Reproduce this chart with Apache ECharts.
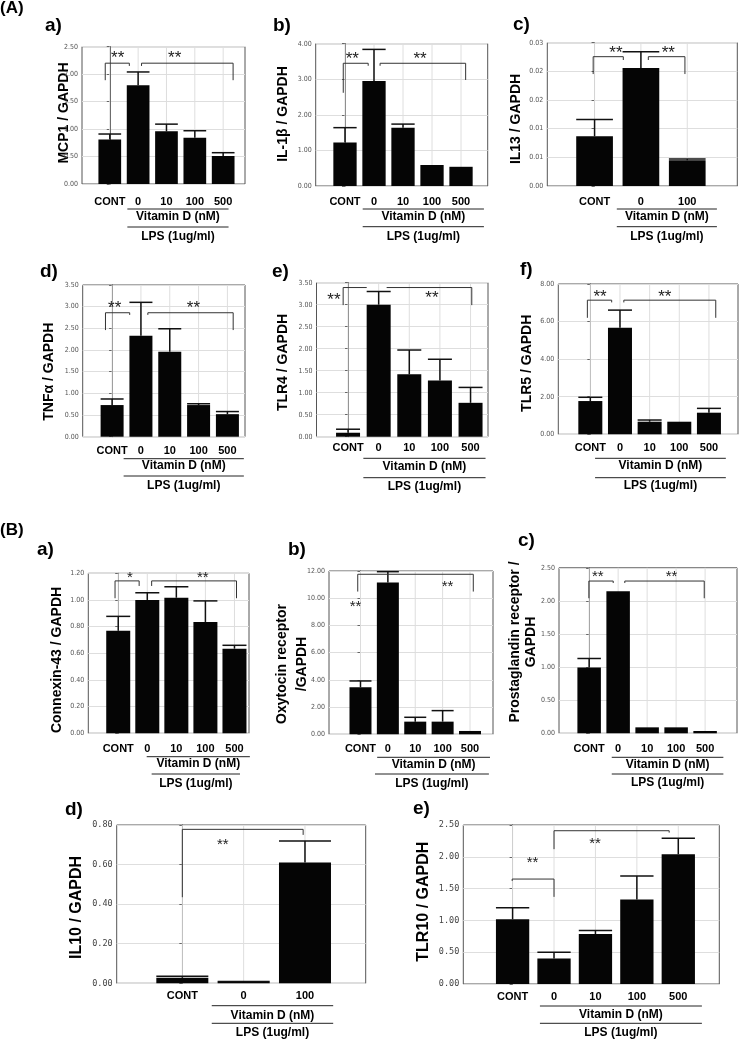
<!DOCTYPE html>
<html><head><meta charset="utf-8">
<script src="https://cdn.jsdelivr.net/npm/echarts@6/dist/echarts.min.js"></script>
<style>html,body{margin:0;padding:0;background:#fff}#c{width:739px;height:1039px}</style>
</head><body><div id="c"></div>
<script>
// ---------- categories ----------
const catsFive = ['CONT', '0', '10', '100', '500'];
const catsThree = ['CONT', '0', '100'];
const groupLabels = ['Vitamin D (nM)', 'LPS (1ug/ml)'];

// ---------- (A) values: mean and SD ----------
const mcp1Mean = [0.81, 1.80, 0.96, 0.84, 0.51];
const mcp1Sd   = [0.10, 0.24, 0.13, 0.13, 0.06];
const il1bMean = [1.22, 2.95, 1.64, 0.59, 0.54];
const il1bSd   = [0.42, 0.89, 0.10, 0, 0];
const il13Mean = [0.0087, 0.0206, 0.0045];
const il13Sd   = [0.0029, 0.0028, 0.0002];
const tnfaMean = [0.73, 2.33, 1.96, 0.73, 0.52];
const tnfaSd   = [0.14, 0.77, 0.53, 0.03, 0.06];
const tlr4Mean = [0.09, 3.00, 1.42, 1.28, 0.77];
const tlr4Sd   = [0.08, 0.30, 0.55, 0.48, 0.35];
const tlr5Mean = [1.77, 5.67, 0.67, 0.67, 1.15];
const tlr5Sd   = [0.20, 0.94, 0.09, 0, 0.23];
// ---------- (B) values ----------
const cx43Mean = [0.77, 1.00, 1.017, 0.835, 0.635];
const cx43Sd   = [0.107, 0.054, 0.082, 0.158, 0.025];
const oxtrMean = [3.46, 11.15, 0.93, 0.93, 0.245];
const oxtrSd   = [0.46, 0.80, 0.32, 0.81, 0];
const ptgrMean = [0.995, 2.146, 0.09, 0.09, 0.035];
const ptgrSd   = [0.135, 0, 0, 0, 0];
const il10Mean = [0.028, 0.008, 0.61];
const il10Sd   = [0.008, 0.001, 0.109];
const tlr10Mean = [1.02, 0.40, 0.786, 1.33, 2.04];
const tlr10Sd   = [0.18, 0.10, 0.054, 0.37, 0.25];

// ---------- tick labels ----------
const il13TickLabels = ['0.00', '0.01', '0.01', '0.02', '0.02', '0.03'];

// ---------- significance brackets [xFrom, xTo, yTop, yLeftEnd, yRightEnd] (category index / value units) ----------
const mcp1Brackets = [[-0.16, 0.69, 2.20, 1.89, 2.15], [1.12, 4.35, 2.20, 2.15, 1.89]];
const mcp1Stars = [[0.28, 2.35, '**'], [2.29, 2.35, '**']];
const il1bBrackets = [[-0.06, 0.80, 3.45, 2.62, 3.38], [1.21, 4.16, 3.45, 3.38, 2.98]];
const il1bStars = [[0.25, 3.68, '**'], [2.59, 3.68, '**']];
const il13Brackets = [[-0.03, 0.62, 0.02256, 0.01953, 0.02198], [1.16, 1.95, 0.02256, 0.02198, 0.01953]];
const il13Stars = [[0.46, 0.02372, '**'], [1.59, 0.02372, '**']];
const tnfaBrackets = [[-0.23, 0.61, 2.86, 2.46, 2.81], [1.24, 4.20, 2.86, 2.81, 2.46]];
const tnfaStars = [[0.09, 3.04, '**'], [2.82, 3.04, '**']];
const tlr4Brackets = [[-0.16, 0.61, 3.39, 2.99, 3.39], [1.26, 4.04, 3.39, 3.39, 2.99]];
const tlr4Stars = [[-0.46, 3.18, '**'], [2.74, 3.23, '**']];
const tlr5Brackets = [[-0.10, 0.72, 7.14, 6.20, 7.02], [1.13, 4.23, 7.14, 7.02, 6.20]];
const tlr5Stars = [[0.33, 7.5, '**'], [2.51, 7.5, '**']];
const cx43Brackets = [[-0.11, 0.72, 1.143, 1.013, 1.105], [1.15, 4.07, 1.143, 1.105, 1.013]];
const cx43Stars = [[0.40, 1.19, '*'], [2.91, 1.19, '**']];
const oxtrBrackets = [[-0.10, 4.12, 11.76, 10.49, 10.49]];
const oxtrStars = [[-0.18, 9.58, '**'], [3.18, 11.05, '**']];
const ptgrBrackets = [[-0.01, 0.83, 2.30, 2.04, 2.27], [1.23, 3.97, 2.30, 2.27, 2.04]];
const ptgrStars = [[0.30, 2.42, '**'], [2.84, 2.42, '**']];
const il10Brackets = [[0.0, 1.97, 0.778, 0.435, 0.75]];
const il10Stars = [[0.66, 0.716, '**']];
const tlr10Brackets = [[-0.01, 1.0, 1.65, 1.62, 1.37], [1.0, 3.78, 2.41, 2.12, 2.38]];
const tlr10Stars = [[0.48, 1.96, '**'], [1.99, 2.26, '**']];

// ---------- layout (pixels / styles) ----------
const SMALL_TICK = {size: 7, family: '"Liberation Sans Narrow","DejaVu Sans Condensed","Liberation Sans",sans-serif', color: '#555'};
const MONO_TICK = {size: 8.5, family: '"DejaVu Sans Mono","Liberation Mono",monospace', color: '#444'};
const BOLD = '"Liberation Sans", Arial, Helvetica, sans-serif';

const panels = [
  {box: [82, 46.7, 163, 137.3], x: [-0.98, 4.77], yMax: 2.5, yStep: 0.5, barW: 22.7, cats: catsFive, mean: mcp1Mean, sd: mcp1Sd, br: mcp1Brackets, st: mcp1Stars, off: [17.7, 25, 33, 43, 53], l1: [0.62, 4.19], l2: [0.62, 4.19], tick: SMALL_TICK, star: 17},
  {box: [315.7, 43.7, 172, 142.3], x: [-1.01, 4.92], yMax: 4, yStep: 1, barW: 23.3, cats: catsFive, mean: il1bMean, sd: il1bSd, br: il1bBrackets, st: il1bStars, off: [15.7, 23, 30.7, 40.7, 50.7], l1: [0.61, 4.79], l2: [0.61, 4.79], tick: SMALL_TICK, star: 17},
  {box: [547.3, 42.7, 190, 143.3], x: [-1.02, 3.08], yMax: 0.025, yStep: 0.005, barW: 36.7, cats: catsThree, mean: il13Mean, sd: il13Sd, br: il13Brackets, st: il13Stars, off: [15.7, 23, 30.7, 40.7, 50.7], l1: [0.48, 2.64], l2: [0.48, 2.64], tick: SMALL_TICK, star: 17, tickLabels: il13TickLabels},
  {box: [82.7, 285, 162.3, 151.7], x: [-1.02, 4.61], yMax: 3.5, yStep: 0.5, barW: 23, cats: catsFive, mean: tnfaMean, sd: tnfaSd, br: tnfaBrackets, st: tnfaStars, off: [14.3, 22, 29.3, 39.3, 49.3], l1: [0.40, 4.57], l2: [0.40, 4.57], tick: SMALL_TICK, star: 17},
  {box: [316.5, 282.7, 171.5, 154], x: [-1.03, 4.57], yMax: 3.5, yStep: 0.5, barW: 24, cats: catsFive, mean: tlr4Mean, sd: tlr4Sd, br: tlr4Brackets, st: tlr4Stars, off: [11.6, 21.6, 30, 41, 50], l1: [0.50, 4.49], l2: [0.50, 4.49], tick: SMALL_TICK, star: 17},
  {box: [558.3, 284, 179.7, 150.3], x: [-1.08, 4.98], yMax: 8, yStep: 2, barW: 24, cats: catsFive, mean: tlr5Mean, sd: tlr5Sd, br: tlr5Brackets, st: tlr5Stars, off: [14, 24, 31.7, 43.4, 51.7], l1: [0.16, 4.57], l2: [0.16, 4.57], tick: SMALL_TICK, star: 17},
  {box: [88.3, 573.3, 160.7, 160], x: [-1.03, 4.5], yMax: 1.2, yStep: 0.2, barW: 24, cats: catsFive, mean: cx43Mean, sd: cx43Sd, br: cx43Brackets, st: cx43Stars, off: [15.7, 23.4, 30, 40.7, 50], l1: [0.98, 4.53], l2: [1.15, 4.19], tick: SMALL_TICK, star: 15},
  {box: [329, 571, 164, 163.3], x: [-1.15, 4.84], yMax: 12, yStep: 2, barW: 22, cats: catsFive, mean: oxtrMean, sd: oxtrSd, br: oxtrBrackets, st: oxtrStars, off: [14.7, 23, 30.7, 39.7, 49], l1: [0.61, 4.73], l2: [0.53, 4.69], tick: SMALL_TICK, star: 15},
  {box: [559, 567.8, 178, 165.5], x: [-1.04, 5.10], yMax: 2.5, yStep: 0.5, barW: 23.5, cats: catsFive, mean: ptgrMean, sd: ptgrSd, br: ptgrBrackets, st: ptgrStars, off: [15.7, 24, 31, 40.7, 49], l1: [0.78, 4.63], l2: [0.78, 4.63], tick: SMALL_TICK, star: 15},
  {box: [116.7, 825, 249, 158.3], x: [-1.07, 2.99], yMax: 0.8, yStep: 0.2, barW: 52, cats: catsThree, mean: il10Mean, sd: il10Sd, br: il10Brackets, st: il10Stars, off: [12.7, 22.4, 32.4, 40, 49.4], l1: [0.48, 2.46], l2: [0.48, 2.46], tick: MONO_TICK, star: 15},
  {box: [463.3, 825, 256, 159], x: [-1.19, 4.99], yMax: 2.5, yStep: 0.5, barW: 33.3, cats: catsFive, mean: tlr10Mean, sd: tlr10Sd, br: tlr10Brackets, st: tlr10Stars, off: [12.7, 22, 31, 39.3, 48.7], l1: [0.66, 4.57], l2: [0.66, 4.57], tick: MONO_TICK, star: 15}
];

// panel letters and axis titles (absolute layout)
const letters = [
  ['(A)', 0, 8.5, 17], ['a)', 45, 25.5, 19], ['b)', 273, 25.5, 19], ['c)', 513, 24.5, 19],
  ['d)', 40, 271.5, 19], ['e)', 272, 271.5, 19], ['f)', 520, 270, 19],
  ['(B)', 0, 530.5, 17], ['a)', 37, 549.5, 19], ['b)', 288, 550, 19], ['c)', 518, 541, 19],
  ['d)', 65, 810, 19], ['e)', 413, 808.5, 19]
];
const axisTitles = [
  ['MCP1 / GAPDH', 64, 113, 14, 16], ['IL-1β / GAPDH', 283, 114, 14, 16], ['IL13 / GAPDH', 515.7, 119, 14, 16],
  ['TNFα / GAPDH', 49.3, 371.7, 14, 16], ['TLR4 / GAPDH', 283.3, 362.5, 14, 16], ['TLR5 / GAPDH', 526.7, 363.3, 14, 16],
  ['Connexin-43 / GAPDH', 56.7, 660, 14, 16], ['Oxytocin receptor\n/GAPDH', 292, 664, 14, 20],
  ['Prostaglandin receptor /\nGAPDH', 523, 642, 14, 16],
  ['IL10 / GAPDH', 76.7, 907.5, 16, 18], ['TLR10 / GAPDH', 423.3, 901.7, 16, 18]
];

const grids = [], xAxes = [], yAxes = [], series = [];
const LINE = '#333';

panels.forEach((p, gi) => {
  grids.push({left: p.box[0], top: p.box[1], width: p.box[2], height: p.box[3], show: true,
    borderColor: '#555', borderWidth: 1, backgroundColor: 'rgba(0,0,0,0)', containLabel: false});
  xAxes.push({type: 'value', gridIndex: gi, min: p.x[0], max: p.x[1], show: false});
  yAxes.push({type: 'value', gridIndex: gi, min: 0, max: p.yMax, interval: p.yStep,
    axisLine: {show: true, lineStyle: {color: '#444'}},
    axisTick: {show: true, length: 3, lineStyle: {color: '#666'}},
    axisLabel: {margin: 4, color: p.tick.color, fontSize: p.tick.size, fontFamily: p.tick.family,
      formatter: v => p.tickLabels ? p.tickLabels[Math.round(v / p.yStep)] : v.toFixed(2)},
    splitLine: {show: true, lineStyle: {color: '#dedede', width: 1}}});
  const ax = {xAxisIndex: gi, yAxisIndex: gi, silent: true, animation: false};

  // vertical grid lines at category centres
  series.push(Object.assign({type: 'custom', z: 1, data: p.cats.map((c, i) => [i]),
    renderItem: (params, api) => {
      const a = api.coord([api.value(0), 0]), b = api.coord([api.value(0), p.yMax]);
      return {type: 'line', shape: {x1: a[0], y1: a[1], x2: b[0], y2: b[1]}, style: {stroke: '#dedede', lineWidth: 1}};
    }}, ax));

  // bars
  series.push(Object.assign({type: 'bar', z: 2, barWidth: p.barW, data: p.mean.map((v, i) => [i, v]),
    itemStyle: {color: '#050505'}}, ax));

  // error bars
  series.push(Object.assign({type: 'custom', z: 3, data: p.mean.map((v, i) => [i, v, p.sd[i]]),
    renderItem: (params, api) => {
      const i = api.value(0), m = api.value(1), s = api.value(2);
      if (!(s > 0)) return null;
      const lo = api.coord([i, m]), hi = api.coord([i, m + s]);
      const hw = p.barW / 2;
      return {type: 'group', children: [
        {type: 'line', shape: {x1: lo[0], y1: lo[1], x2: hi[0], y2: hi[1]}, style: {stroke: '#111', lineWidth: 1.5}},
        {type: 'line', shape: {x1: hi[0] - hw, y1: hi[1], x2: hi[0] + hw, y2: hi[1]}, style: {stroke: '#111', lineWidth: 1.5}}
      ]};
    }}, ax));

  // significance brackets
  series.push(Object.assign({type: 'custom', z: 4, data: p.br,
    renderItem: (params, api) => {
      const x1 = api.value(0), x2 = api.value(1), yt = api.value(2), yl = api.value(3), yr = api.value(4);
      const pts = [api.coord([x1, yl]), api.coord([x1, yt]), api.coord([x2, yt]), api.coord([x2, yr])];
      return {type: 'polyline', shape: {points: pts}, style: {stroke: LINE, lineWidth: 1, fill: null}};
    }}, ax));

  // stars
  series.push(Object.assign({type: 'custom', z: 5, data: p.st.map(s => [s[0], s[1]]),
    renderItem: (params, api) => {
      const c = api.coord([api.value(0), api.value(1)]);
      return {type: 'text', style: {text: p.st[params.dataIndex][2], x: c[0], y: c[1] + p.star * 0.22,
        font: `${p.star}px ${BOLD}`, fill: '#222', align: 'center', verticalAlign: 'middle'}};
    }}, ax));

  // category labels under the axis
  series.push(Object.assign({type: 'custom', z: 5, clip: false, data: p.cats.map((c, i) => [i]),
    renderItem: (params, api) => {
      const c = api.coord([api.value(0), 0]);
      return {type: 'text', style: {text: p.cats[params.dataIndex], x: c[0], y: c[1] + p.off[0],
        font: `bold 11px ${BOLD}`, fill: '#000', align: 'center', verticalAlign: 'middle'}};
    }}, ax));

  // group lines and labels (Vitamin D / LPS)
  series.push(Object.assign({type: 'custom', z: 5, clip: false, data: [[0]],
    renderItem: (params, api) => {
      const a1 = api.coord([p.l1[0], 0]), b1 = api.coord([p.l1[1], 0]);
      const a2 = api.coord([p.l2[0], 0]), b2 = api.coord([p.l2[1], 0]);
      const y0 = a1[1];
      return {type: 'group', children: [
        {type: 'line', shape: {x1: a1[0], y1: y0 + p.off[1], x2: b1[0], y2: y0 + p.off[1]}, style: {stroke: '#222', lineWidth: 1}},
        {type: 'text', style: {text: groupLabels[0], x: (a1[0] + b1[0]) / 2, y: y0 + p.off[2], font: `bold 12px ${BOLD}`, fill: '#000', align: 'center', verticalAlign: 'middle'}},
        {type: 'line', shape: {x1: a2[0], y1: y0 + p.off[3], x2: b2[0], y2: y0 + p.off[3]}, style: {stroke: '#222', lineWidth: 1}},
        {type: 'text', style: {text: groupLabels[1], x: (a2[0] + b2[0]) / 2, y: y0 + p.off[4], font: `bold 12px ${BOLD}`, fill: '#000', align: 'center', verticalAlign: 'middle'}}
      ]};
    }}, ax));
});

const graphic = [];
letters.forEach(l => graphic.push({type: 'text', x: l[1], y: l[2],
  style: {text: l[0], font: `bold ${l[3]}px ${BOLD}`, fill: '#000', align: 'left', verticalAlign: 'middle'}}));
axisTitles.forEach(t => graphic.push({type: 'text', x: t[1], y: t[2], rotation: Math.PI / 2,
  style: {text: t[0], font: `bold ${t[3]}px ${BOLD}`, lineHeight: t[4], fill: '#000', align: 'center', verticalAlign: 'middle'}}));

const chart = echarts.init(document.getElementById('c'), null, {renderer: 'canvas'});
chart.setOption({animation: false, backgroundColor: '#fff', grid: grids, xAxis: xAxes, yAxis: yAxes, series: series, graphic: graphic});
</script></body></html>
